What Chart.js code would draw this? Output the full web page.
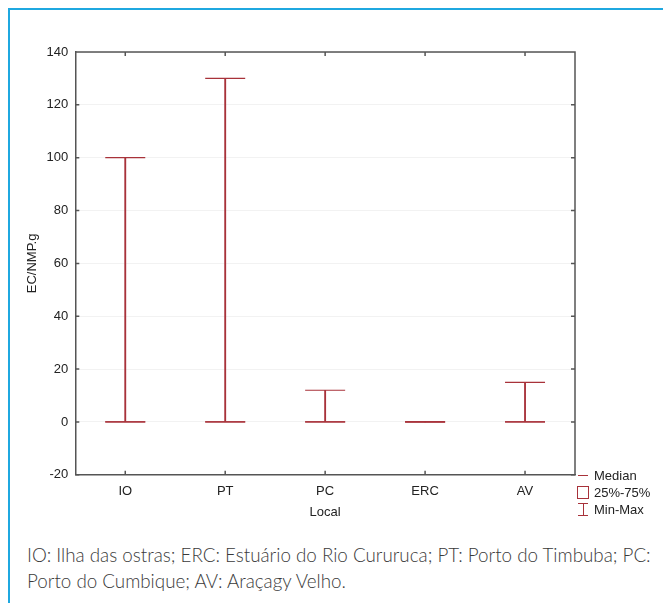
<!DOCTYPE html>
<html lang="pt">
<head>
<meta charset="utf-8">
<title>EC/NMP.g por local</title>
<script src="https://cdn.jsdelivr.net/npm/chart.js@4.4.1/dist/chart.umd.min.js"></script>
<style>
    html, body {
        margin: 0;
        padding: 0;
        background: #ffffff;
        width: 663px;
        height: 603px;
        overflow: hidden;
    }

    .frame {
        position: absolute;
        left: 8px;
        top: 8px;
        width: 700px;
        height: 640px;
        border-left: 2px solid #1fa8e0;
        border-top: 2px solid #1fa8e0;
    }

    .chart-box {
        position: absolute;
        left: 0;
        top: 0;
        width: 663px;
        height: 530px;
    }

    .legend {
        position: absolute;
        left: 577px;
        top: 467px;
        font-family: "Liberation Sans", Arial, sans-serif;
        font-size: 13px;
        color: #222222;
        line-height: 17px;
    }

    .legend-row {
        position: relative;
        padding-left: 17px;
        white-space: nowrap;
    }

    .sym-median {
        position: absolute;
        left: 1px;
        top: 8px;
        width: 10px;
        height: 0;
        border-top: 1.2px solid #a8323a;
    }

    .sym-box {
        position: absolute;
        left: 0;
        top: 2px;
        width: 10px;
        height: 11px;
        border: 1.2px solid #a8323a;
    }

    .sym-range {
        position: absolute;
        left: 1px;
        top: 2px;
        width: 10px;
        height: 11px;
        border-top: 1.2px solid #a8323a;
        border-bottom: 1.2px solid #a8323a;
    }

    .sym-range::after {
        content: "";
        position: absolute;
        left: 4.5px;
        top: 0;
        width: 0;
        height: 11px;
        border-left: 1.2px solid #a8323a;
    }

    .caption {
        position: absolute;
        left: 27px;
        top: 542px;
        width: 640px;
        font-family: "Lato", "Open Sans", sans-serif;
        font-weight: 300;
        font-size: 18.8px;
        line-height: 26px;
        color: #3a3a3a;
        white-space: nowrap;
    }
</style>
</head>
<body>

<div class="frame"></div>

<div class="chart-box">
    <canvas id="boxChart" width="663" height="530"></canvas>
</div>

<div class="legend">
    <div class="legend-row"><span class="sym-median"></span>Median</div>
    <div class="legend-row"><span class="sym-box"></span>25%-75%</div>
    <div class="legend-row"><span class="sym-range"></span>Min-Max</div>
</div>

<div class="caption">
    IO: Ilha das ostras; ERC: Estuário do Rio Cururuca; PT: Porto do Timbuba; PC:<br>
    Porto do Cumbique; AV: Araçagy Velho.
</div>

<script>
"use strict";

/* =========================================================
   DATA
========================================================= */

const categories = ["IO", "PT", "PC", "ERC", "AV"];

const minValues = [0, 0, 0, 0, 0];

const q1Values = [0, 0, 0, 0, 0];

const medianValues = [0, 0, 0, 0, 0];

const q3Values = [0, 0, 0, 0, 0];

const maxValues = [100, 130, 12, 0, 15];

const yMin = -20;
const yMax = 140;
const yStep = 20;

const RED = "#a8323a";
const AXIS = "#555555";
const FONT = "'Liberation Sans', Arial, sans-serif";
const LINE_W = 1.2;


/* =========================================================
   FRAME + INWARD TICKS
========================================================= */

const frameTicks = {

    id: "frameTicks",

    afterDraw(chart) {

        const ctx = chart.ctx;
        const area = chart.chartArea;
        const x = chart.scales.x;
        const y = chart.scales.y;
        const len = 4;

        ctx.save();
        ctx.strokeStyle = AXIS;
        ctx.lineWidth = 1.5;

        ctx.beginPath();
        ctx.moveTo(area.left, area.top);
        ctx.lineTo(area.right, area.top);
        ctx.lineTo(area.right, area.bottom);

        y.ticks.forEach((t, i) => {
            const py = y.getPixelForTick(i);
            ctx.moveTo(area.left, py);
            ctx.lineTo(area.left + len, py);
            ctx.moveTo(area.right, py);
            ctx.lineTo(area.right - len, py);
        });

        x.ticks.forEach((t, i) => {
            const px = x.getPixelForTick(i);
            ctx.moveTo(px, area.bottom);
            ctx.lineTo(px, area.bottom - len);
            ctx.moveTo(px, area.top);
            ctx.lineTo(px, area.top + len);
        });

        ctx.stroke();
        ctx.restore();

    }

};


/* =========================================================
   CHART
========================================================= */

function capDataset(label, values) {

    return {
        type: "line",
        label: label,
        data: values,
        showLine: false,
        pointStyle: "line",
        pointRadius: 20,
        pointHoverRadius: 20,
        pointBorderWidth: LINE_W,
        pointBorderColor: RED,
        borderColor: RED,
        order: 0
    };

}

function createBoxChart() {

    const canvas = document.getElementById("boxChart");

    new Chart(canvas, {

        type: "bar",

        data: {

            labels: categories,

            datasets: [

                {
                    label: "Min-Max",
                    data: categories.map((c, i) => [minValues[i], maxValues[i]]),
                    backgroundColor: RED,
                    barThickness: LINE_W,
                    grouped: false,
                    order: 2
                },

                {
                    label: "25%-75%",
                    data: categories.map((c, i) => [q1Values[i], q3Values[i]]),
                    backgroundColor: "rgba(0,0,0,0)",
                    borderColor: RED,
                    borderWidth: LINE_W,
                    borderSkipped: false,
                    barThickness: 40,
                    grouped: false,
                    order: 1
                },

                capDataset("Median", medianValues),

                capDataset("Max", maxValues),

                capDataset("Min", minValues)

            ]

        },

        options: {

            responsive: false,
            animation: false,
            events: [],

            layout: {
                padding: { left: 25, top: 52, right: 88, bottom: 10 }
            },

            plugins: {
                legend: { display: false },
                tooltip: { enabled: false }
            },

            scales: {

                x: {
                    offset: true,
                    grid: { display: false, drawTicks: false },
                    border: { color: AXIS, width: 1.5 },
                    ticks: {
                        color: "#222222",
                        padding: 9,
                        font: { family: FONT, size: 13 }
                    },
                    title: {
                        display: true,
                        text: "Local",
                        color: "#222222",
                        padding: { top: -4, bottom: 0 },
                        font: { family: FONT, size: 13 }
                    }
                },

                y: {
                    min: yMin,
                    max: yMax,
                    grid: {
                        color: "#f2f2f2",
                        lineWidth: 1,
                        drawTicks: false
                    },
                    border: { color: AXIS, width: 1.5 },
                    ticks: {
                        stepSize: yStep,
                        color: "#222222",
                        padding: 7,
                        font: { family: FONT, size: 13 }
                    },
                    title: {
                        display: true,
                        text: "EC/NMP.g",
                        color: "#222222",
                        padding: { top: 0, bottom: -1 },
                        font: { family: FONT, size: 13 }
                    }
                }

            }

        },

        plugins: [frameTicks]

    });

}

createBoxChart();
</script>
</body>
</html>
